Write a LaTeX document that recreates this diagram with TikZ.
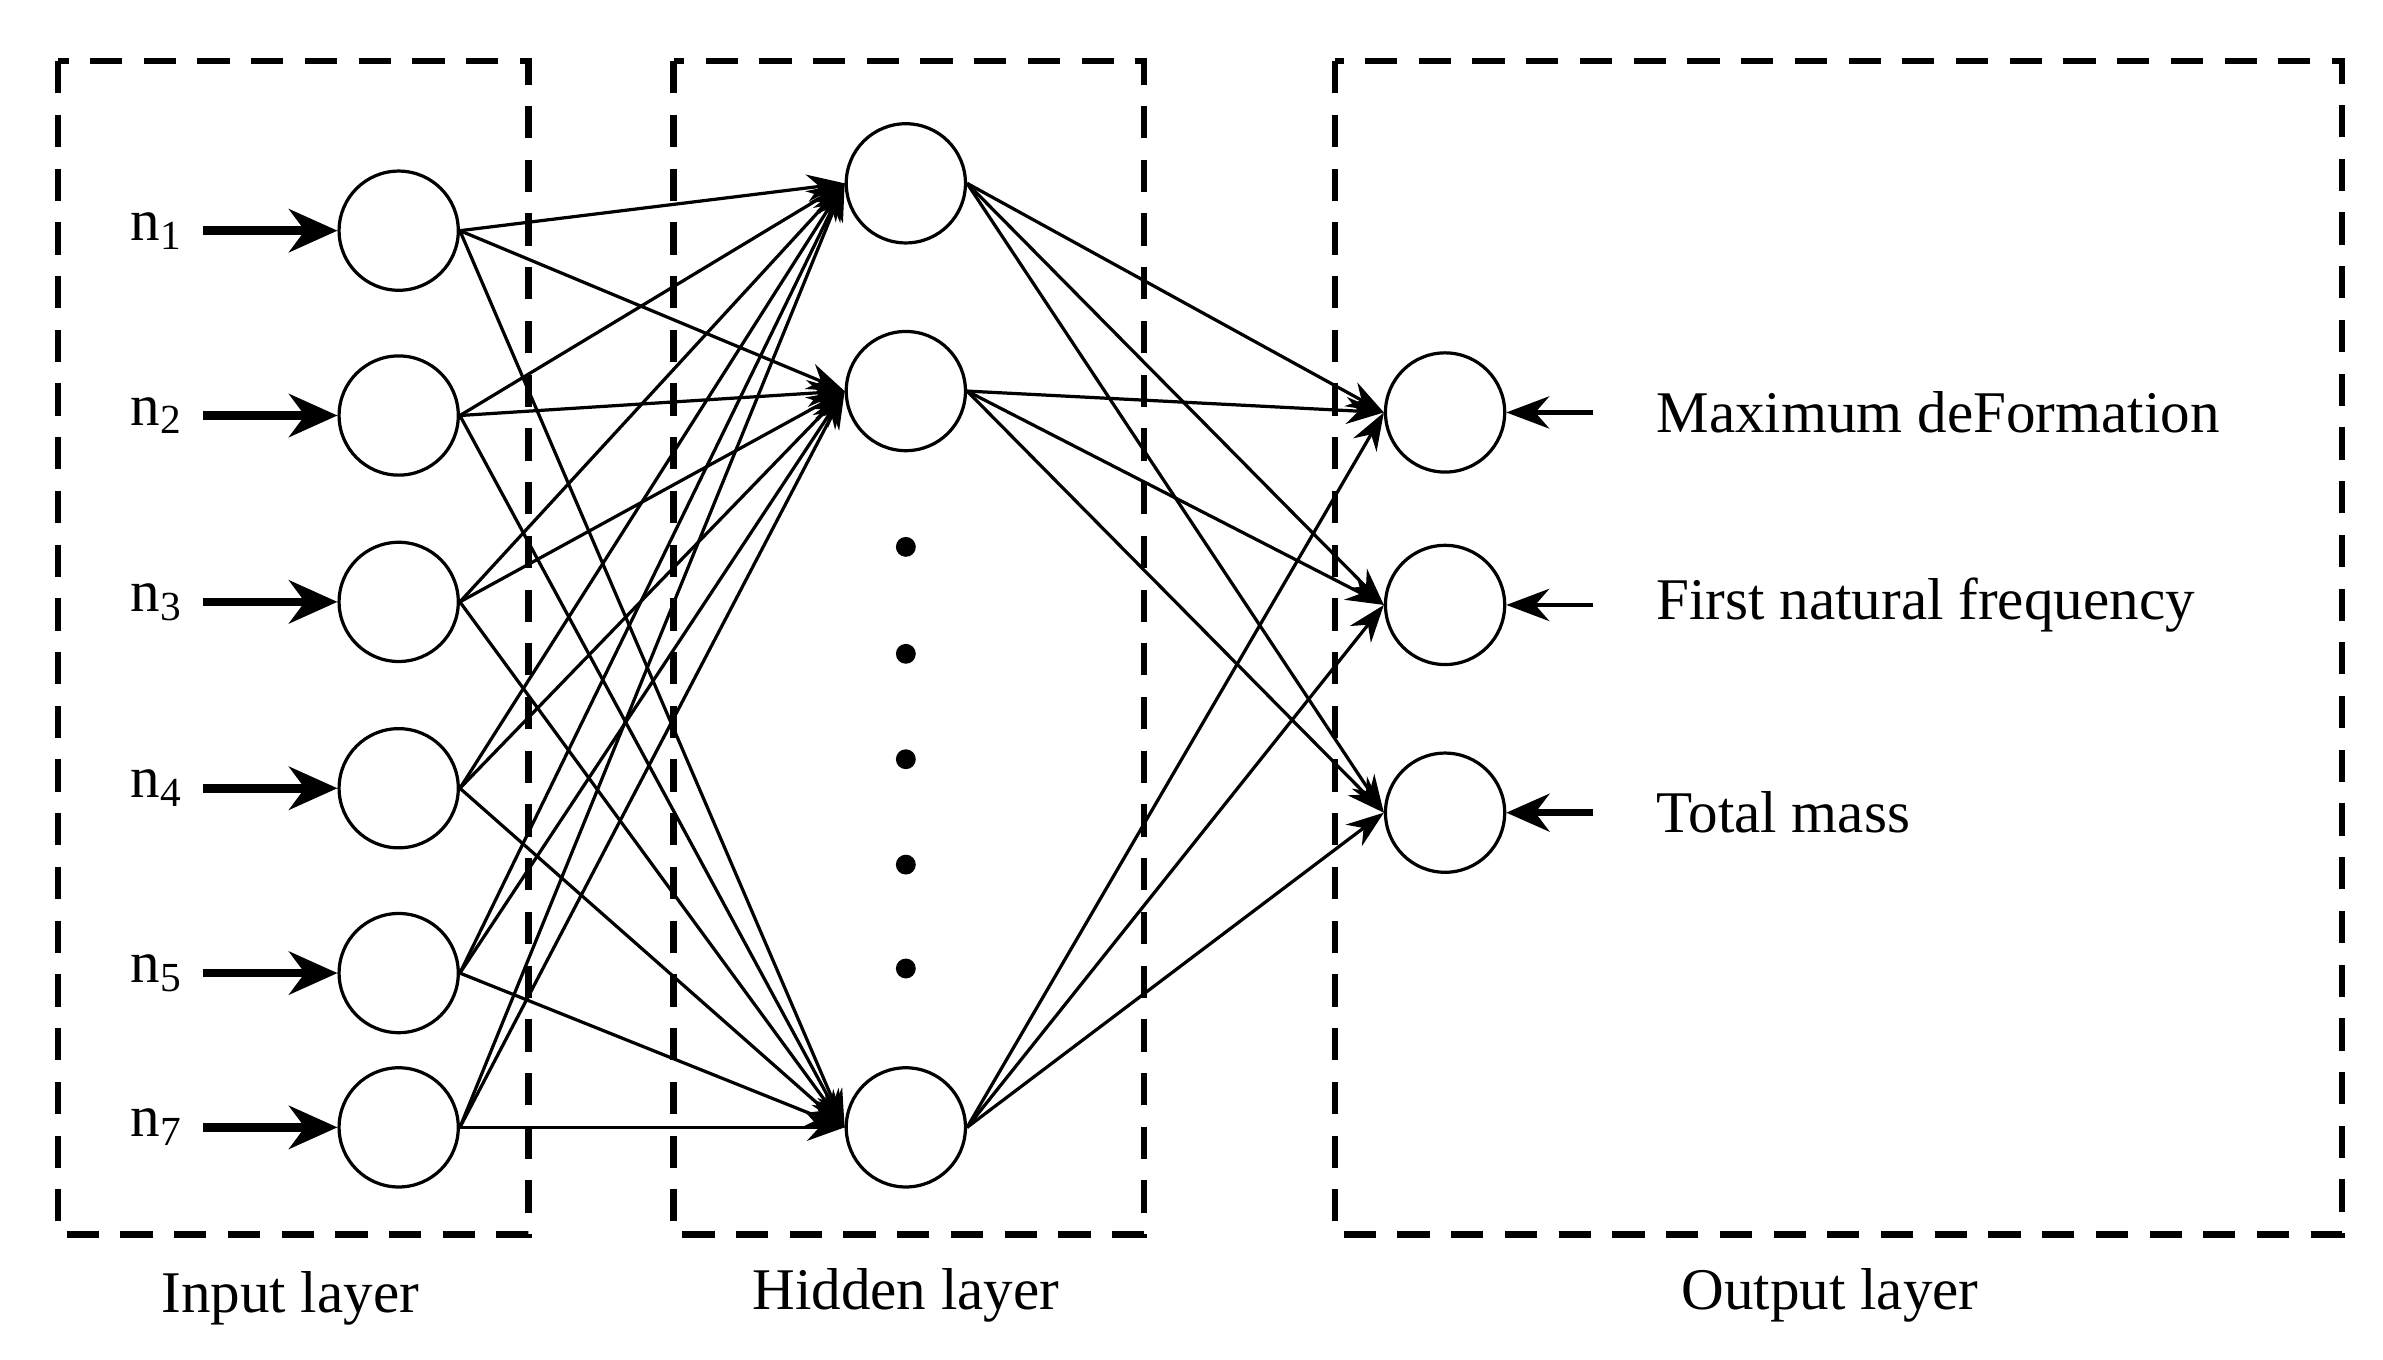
\documentclass[tikz,border=0pt]{standalone}
\usepackage{fontspec}
\setmainfont{Liberation Serif}
\usetikzlibrary{arrows.meta}
\begin{document}
\begin{tikzpicture}[x=0.01cm, y=-0.01cm, font=\fontsize{11}{13}\selectfont,
    neuron/.style={draw, circle, minimum size=0.78cm, inner sep=0pt, line width=0.6pt},
    layerbox/.style={draw, dashed, line width=1.2pt, dash pattern=on 6pt off 4pt},
    link/.style={-{Stealth[length=7pt,width=5pt]}, line width=0.6pt},
    feed/.style={-{Stealth[length=9pt,width=8pt]}, line width=1.6pt}]
    \useasboundingbox (0,0) rectangle (1560,890);
    % layer boxes
    \draw[layerbox] (38,40) rectangle (346,808);
    \draw[layerbox] (441,40) rectangle (749,808);
    \draw[layerbox] (874,40) rectangle (1533,808);
    \node (capin) at (190,850) {Input layer};
    \node (caphid) at (593,848) {Hidden layer};
    \node (capout) at (1198,848) {Output layer};
    % input layer
    \foreach \i/\y/\s in {1/151/1, 2/272/2, 3/394/3, 4/516/4, 5/637/5, 6/738/7} {
        \node[neuron] (in\i) at (261,\y) {};
        \node (lab\i) at (103,\y) {n\textsubscript{\s}};
        \draw[feed] (lab\i.east) -- (in\i.west);
    }
    % hidden layer
    \node[neuron] (hid1) at (593,120) {};
    \node[neuron] (hid2) at (593,256) {};
    \node[neuron] (hid3) at (593,738) {};
    \foreach \y [count=\k] in {358,428,497,566,634}
        \fill (593,\y) circle (0.065cm) coordinate (dot\k);
    % output layer
    \foreach \y/\t [count=\k] in {270/Maximum deFormation, 396/First natural frequency, 532/Total mass} {
        \node[neuron] (out\k) at (946,\y) {};
        \node[anchor=west] (olab\k) at (1072,\y) {\t};
        \coordinate (ostart\k) at (1043,\y);
    }
    \draw[-{Stealth[length=8pt,width=6pt]}, line width=0.8pt] (ostart1) -- (out1.east);
    \draw[-{Stealth[length=8pt,width=6pt]}, line width=0.8pt] (ostart2) -- (out2.east);
    \draw[-{Stealth[length=8pt,width=7pt]}, line width=1.4pt] (ostart3) -- (out3.east);
    % connections
    \foreach \i in {1,...,6}
        \foreach \j in {1,2,3}
            \draw[link] (in\i.east) -- (hid\j.west);
    \foreach \j in {1,2,3}
        \foreach \k in {1,2,3}
            \draw[link] (hid\j.east) -- (out\k.west);
\end{tikzpicture}
\end{document}
